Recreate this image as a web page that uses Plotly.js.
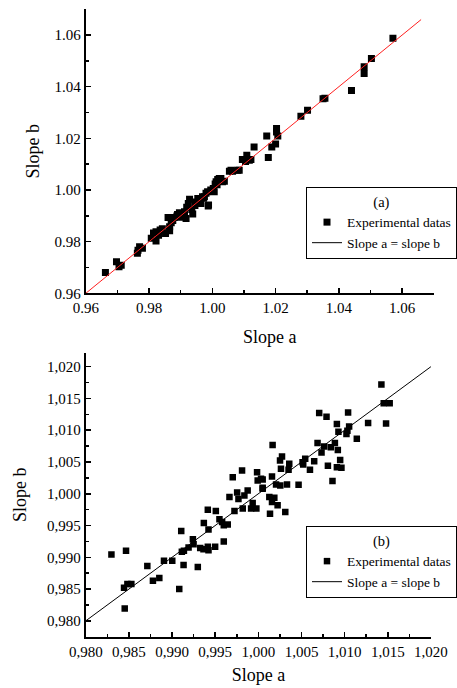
<!DOCTYPE html>
<html><head><meta charset="utf-8">
<script src="https://cdn.plot.ly/plotly-3.0.1.min.js"></script>
<style>html,body{margin:0;padding:0;background:#fff}#chart{width:457px;height:688px}</style>
</head><body><div id="chart"></div>
<script>
// Panel (a)
const slopeA_a = [0.9662,0.9697,0.9705,0.9712,0.9763,0.9765,0.9770,0.9779,0.9807,0.9814,0.9822,0.9822,0.9830,0.9835,0.9842,0.9852,0.9860,0.9865,0.9865,0.9870,0.9875,0.9880,0.9888,0.9890,0.9896,0.9900,0.9905,0.9912,0.9917,0.9919,0.9924,0.9928,0.9935,0.9938,0.9945,0.9949,0.9954,0.9960,0.9964,0.9969,0.9972,0.9975,0.9980,0.9985,0.9987,0.9988,0.9995,1.0000,1.0003,1.0006,1.0009,1.0012,1.0015,1.0017,1.0022,1.0027,1.0032,1.0038,1.0054,1.0059,1.0064,1.0080,1.0085,1.0095,1.0105,1.0109,1.0117,1.0122,1.0132,1.0172,1.0177,1.0188,1.0200,1.0203,1.0203,1.0207,1.0280,1.0301,1.0350,1.0356,1.0440,1.0480,1.0480,1.0503,1.0571];
const slopeB_a = [0.9681,0.9722,0.9703,0.9709,0.9755,0.9767,0.9780,0.9774,0.9813,0.9834,0.9838,0.9803,0.9825,0.9845,0.9850,0.9832,0.9894,0.9858,0.9842,0.9873,0.9882,0.9894,0.9899,0.9905,0.9912,0.9895,0.9908,0.9916,0.9890,0.9933,0.9948,0.9964,0.9925,0.9907,0.9940,0.9954,0.9967,0.9960,0.9948,0.9974,0.9968,0.9974,0.9987,0.9993,0.9938,0.9942,1.0000,0.9998,1.0006,0.9993,1.0023,1.0032,1.0020,1.0041,1.0045,1.0045,1.0032,1.0034,1.0073,1.0077,1.0073,1.0077,1.0077,1.0118,1.0110,1.0135,1.0115,1.0118,1.0167,1.0209,1.0126,1.0167,1.0178,1.0238,1.0225,1.0209,1.0286,1.0309,1.0353,1.0355,1.0385,1.0477,1.0451,1.0509,1.0588];
const identityA = [0.96, 1.066];

// Panel (b)
const slopeA_b = [0.98297,0.98466,0.98443,0.98482,0.98528,0.98451,0.98713,0.98778,0.98852,0.98906,0.99002,0.99083,0.99106,0.99113,0.99137,0.99133,0.99191,0.99241,0.99249,0.99298,0.99326,0.99364,0.99422,0.99414,0.99499,0.99368,0.99414,0.99422,0.99507,0.99599,0.99549,0.99599,0.99645,0.99580,0.99665,0.99723,0.99703,0.99754,0.99769,0.99838,0.99876,0.99819,0.99916,0.99977,0.99934,0.99992,1.00031,1.00050,0.99985,0.99811,1.01426,1.01453,1.01522,1.01480,1.01272,1.01040,1.01141,1.01052,1.01032,1.01021,1.00928,1.00910,1.00790,1.00705,1.00887,1.00840,1.00763,1.00921,1.00732,1.00686,1.00948,1.00910,1.00963,1.00806,1.00859,1.00647,1.00598,1.00520,1.00543,1.00512,1.00466,1.00358,1.00350,1.00262,1.00274,1.00251,1.00165,1.00332,1.00254,1.00205,1.00158,1.00050,1.00127,1.00185,1.00158,1.00223,1.00135,1.00312,1.00050];
const slopeB_b = [0.99045,0.99101,0.98522,0.98580,0.98580,0.98193,0.98862,0.98631,0.98674,0.98945,0.98945,0.98501,0.99415,0.99086,0.99101,0.98877,0.99155,0.99285,0.99206,0.98846,0.99148,0.99128,0.99112,0.99164,0.99164,0.99540,0.99750,0.99437,0.99728,0.99249,0.99600,0.99504,0.99515,0.99556,0.99947,0.99728,1.00261,1.00021,0.99916,0.99974,1.00052,0.99766,0.99766,0.99766,0.99853,1.00209,1.00236,1.00079,1.00339,1.00366,1.01718,1.01426,1.01426,1.01107,1.01113,1.01279,1.00867,1.01060,1.00992,1.00940,1.00977,1.01097,1.01212,1.01270,1.00800,1.00731,1.00742,1.00690,1.00648,1.00800,1.00533,1.00417,1.00408,1.00439,1.00200,1.00511,1.00377,1.00460,1.00549,1.00496,1.00142,1.00471,1.00377,1.00392,1.00585,1.00522,1.00768,1.00146,1.00131,1.00146,1.00272,1.00225,0.99947,0.99938,0.99869,0.99817,0.99687,0.99712,1.00095];
const identityB = [0.98, 1.02];

const tickLabelsB = ['0,980','0,985','0,990','0,995','1,000','1,005','1,010','1,015','1,020'];

const FONT = 'Liberation Serif, serif';
const aliasB = {};
tickLabelsB.forEach(function (t) { aliasB[t.replace(',', '.')] = t; });

function minorTicks(step, start) {
  return {ticks: 'inside', ticklen: 3, tickwidth: 1.5, tickcolor: '#000', dtick: step, tick0: start, showgrid: false};
}

function axis(extra) {
  const base = {
    showline: true, linecolor: '#000', linewidth: 2,
    ticks: 'inside', ticklen: 5, tickwidth: 1.5, tickcolor: '#000',
    showgrid: false, zeroline: false, automargin: false,
    tickfont: {family: FONT, size: 15, color: '#000'}
  };
  return Object.assign(base, extra);
}

const traces = [
  {x: slopeA_a, y: slopeB_a, xaxis: 'x', yaxis: 'y', mode: 'markers', type: 'scatter',
   name: 'Experimental datas', legend: 'legend',
   marker: {symbol: 'square', size: 7, color: '#000'}},
  {x: identityA, y: identityA, xaxis: 'x', yaxis: 'y', mode: 'lines', type: 'scatter',
   showlegend: false, line: {color: '#ff2020', width: 1}},
  {x: [null], y: [null], xaxis: 'x', yaxis: 'y', mode: 'lines', type: 'scatter',
   name: 'Slope a = slope b', legend: 'legend', line: {color: '#000', width: 1}},
  {x: slopeA_b, y: slopeB_b, xaxis: 'x2', yaxis: 'y2', mode: 'markers', type: 'scatter',
   name: 'Experimental datas', legend: 'legend2',
   marker: {symbol: 'square', size: 6.5, color: '#000'}},
  {x: identityB, y: identityB, xaxis: 'x2', yaxis: 'y2', mode: 'lines', type: 'scatter',
   name: 'Slope a = slope b', legend: 'legend2', line: {color: '#000', width: 1}}
];

const legendBase = {
  xanchor: 'left', yanchor: 'top', bgcolor: '#fff',
  bordercolor: '#000', borderwidth: 1,
  font: {family: FONT, size: 13.5, color: '#000'},
  tracegroupgap: 0
};

const titleFont = {family: FONT, size: 18, color: '#000'};

const layout = {
  width: 457, height: 688,
  margin: {l: 0, r: 0, t: 0, b: 0},
  paper_bgcolor: '#fff', plot_bgcolor: '#fff',
  font: {family: FONT, color: '#000'},
  xaxis: axis({domain: [86/457, 435/457], range: [0.96, 1.0701], anchor: 'y',
    dtick: 0.02, tick0: 0.96, tickformat: '.2f', minor: minorTicks(0.01, 0.96)}),
  yaxis: axis({domain: [1 - 293.3/688, 1 - 9/688], range: [0.96, 1.0701], anchor: 'x',
    dtick: 0.02, tick0: 0.96, tickformat: '.2f', minor: minorTicks(0.01, 0.96),
    title: {text: 'Slope b', font: titleFont, standoff: 10}}),
  xaxis2: axis({domain: [86/457, 432.3/457], range: [0.98, 1.02005], anchor: 'y2',
    dtick: 0.005, tick0: 0.98, tickformat: '.3f', labelalias: aliasB, minor: minorTicks(0.0025, 0.98),
    title: {text: 'Slope a', font: titleFont, standoff: 10}}),
  yaxis2: axis({domain: [1 - 636.7/688, 1 - 352.7/688], range: [0.9775, 1.0222], anchor: 'x2',
    dtick: 0.005, tick0: 0.98, tickformat: '.3f', labelalias: aliasB, minor: minorTicks(0.0025, 0.98),
    title: {text: 'Slope b', font: titleFont, standoff: 16}}),
  annotations: [
    {text: 'Slope a', xref: 'paper', yref: 'paper', x: 271/457, y: 1 - 337/688,
     xanchor: 'center', yanchor: 'middle', showarrow: false, font: titleFont}
  ],
  legend: Object.assign({}, legendBase, {x: 307/457, y: 1 - 187/688,
    title: {text: '(a)', side: 'top center', font: {family: FONT, size: 14.5, color: '#000'}}}),
  legend2: Object.assign({}, legendBase, {x: 307/457, y: 1 - 526/688,
    title: {text: '(b)', side: 'top center', font: {family: FONT, size: 14.5, color: '#000'}}}),
  showlegend: true
};

Plotly.newPlot('chart', traces, layout, {displayModeBar: false, staticPlot: true});
</script>
</body></html>
